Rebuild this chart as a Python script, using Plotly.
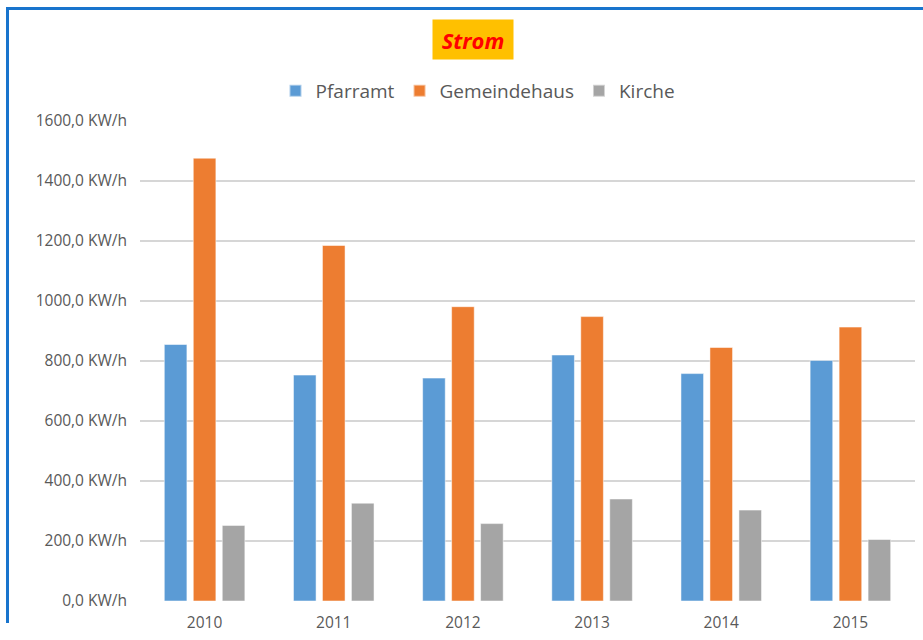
import plotly.graph_objects as go

years = ["2010", "2011", "2012", "2013", "2014", "2015"]
pfarramt = [855, 753, 743, 820, 758, 802]
gemeindehaus = [1476, 1185, 981, 948, 845, 913]
kirche = [252, 326, 258, 340, 303, 205]
tick_vals = [0, 200, 400, 600, 800, 1000, 1200, 1400, 1600]
tick_text = [f"{v},0 KW/h" for v in tick_vals]

W, H = 923, 640
L, R, T, B = 140, 8, 121, 39
pw = W - L - R
ph = H - T - B


def px(x):
    return (x - L) / pw


def py(y):
    return (H - B - y) / ph


font_family = "Open Sans, Noto Sans, DejaVu Sans, sans-serif"

fig = go.Figure()
for name, vals, color in [
    ("Pfarramt", pfarramt, "#5B9BD5"),
    ("Gemeindehaus", gemeindehaus, "#ED7D31"),
    ("Kirche", kirche, "#A5A5A5"),
]:
    fig.add_trace(go.Bar(
        x=years, y=vals, name=name,
        marker=dict(color=color, line=dict(color="rgba(255,255,255,0.5)", width=1)),
    ))

fig.update_layout(
    width=W, height=H,
    margin=dict(l=L, r=R, t=T, b=B),
    paper_bgcolor="white", plot_bgcolor="white",
    barmode="group", bargap=0.327, bargroupgap=0.22,
    font=dict(family=font_family, color="#595959"),
    showlegend=True,
    legend=dict(
        orientation="h", x=px(478), xanchor="center", y=py(91), yanchor="middle",
        font=dict(size=19, color="#595959"), itemsizing="constant",
        traceorder="normal", itemwidth=30,
    ),
    xaxis=dict(
        showgrid=False, zeroline=False, showline=False, ticks="",
        tickfont=dict(size=15.5, color="#595959"), ticklabelstandoff=10,
    ),
    yaxis=dict(
        range=[0, 1600], tickvals=tick_vals, ticktext=tick_text,
        showgrid=True, gridcolor="#D6D6D6", gridwidth=2,
        zeroline=False, showline=False, ticks="",
        tickfont=dict(size=15.5, color="#595959"), ticklabelstandoff=12,
    ),
    annotations=[dict(
        text="<b><i>Strom</i></b>", xref="paper", yref="paper",
        x=px(473), y=py(39.5), xanchor="center", yanchor="middle",
        showarrow=False, bgcolor="#FFC000", width=78, height=37,
        font=dict(size=22, color="#FF0000", family=font_family),
    )],
    shapes=[
        dict(type="line", xref="paper", yref="paper",
             x0=px(7.5), x1=px(7.5), y0=py(623), y1=py(8.5),
             line=dict(color="#1874CD", width=3)),
        dict(type="line", xref="paper", yref="paper",
             x0=px(6), x1=px(930), y0=py(8.5), y1=py(8.5),
             line=dict(color="#1874CD", width=3)),
    ],
)

fig.write_html(
    "out.html",
    config={"displayModeBar": False},
    post_script="document.body.style.margin='0';document.body.style.padding='0';",
)
